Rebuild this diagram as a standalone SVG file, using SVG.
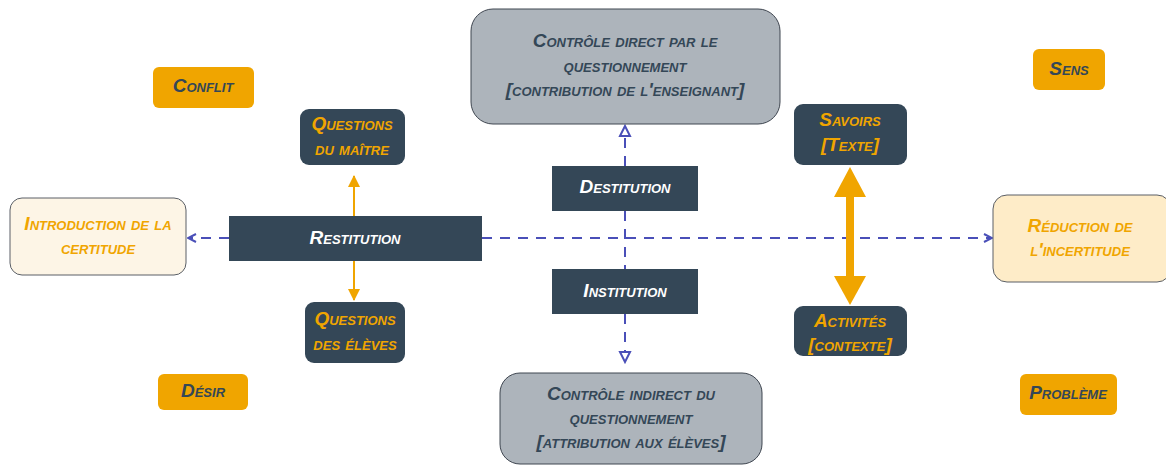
<svg xmlns="http://www.w3.org/2000/svg" width="1166" height="466" viewBox="0 0 1166 466">
<style>
text{font-family:"Liberation Sans",Arial,sans-serif;font-weight:bold;font-style:italic;font-variant:small-caps;text-anchor:middle;font-size:19px}
.dk{fill:#344757}
.or{fill:#f0a500}
.gray{fill:#adb4bb;stroke:#3f4650;stroke-width:1}
.cream{stroke:#5a5f66;stroke-width:1}
.tw{fill:#ffffff}
.to{fill:#f0a500}
.td{fill:#344757}
.dash{stroke:#4a4fb8;stroke-width:2;stroke-dasharray:10 8;fill:none}
</style>
<defs>
<marker id="chev" viewBox="0 0 10 10" refX="9" refY="5" markerWidth="10" markerHeight="10" markerUnits="userSpaceOnUse" orient="auto">
<path d="M1,1 L9,5 L1,9" fill="none" stroke="#4a4fb8" stroke-width="2"/>
</marker>
<marker id="tri" viewBox="0 0 14 14" refX="12" refY="7" markerWidth="14" markerHeight="14" markerUnits="userSpaceOnUse" orient="auto">
<path d="M2,2 L12,7 L2,12 Z" fill="#ffffff" stroke="#4a4fb8" stroke-width="2"/>
</marker>
<marker id="otri" viewBox="0 0 12 12" refX="11" refY="6" markerWidth="12" markerHeight="12" markerUnits="userSpaceOnUse" orient="auto">
<path d="M0,0 L12,6 L0,12 Z" fill="#f0a500"/>
</marker>
</defs>
<g id="connectors">
<line class="dash" x1="482" y1="238" x2="992" y2="238" marker-end="url(#chev)"/>
<line class="dash" x1="229" y1="238" x2="188" y2="238" marker-end="url(#chev)"/>
<line class="dash" x1="625" y1="166" x2="625" y2="126" marker-end="url(#tri)"/>
<line class="dash" x1="625" y1="211" x2="625" y2="269"/>
<line class="dash" x1="625" y1="314" x2="625" y2="362" marker-end="url(#tri)"/>
<line x1="354" y1="216" x2="354" y2="176" stroke="#f0a500" stroke-width="2" marker-end="url(#otri)"/>
<line x1="354" y1="261" x2="354" y2="300" stroke="#f0a500" stroke-width="2" marker-end="url(#otri)"/>
<line x1="850" y1="195" x2="850" y2="278" stroke="#f0a500" stroke-width="8"/>
<path d="M850,167 L866,197 L834,197 Z" fill="#f0a500"/>
<path d="M850,305 L866,276 L834,276 Z" fill="#f0a500"/>
</g>
<g id="controle-direct">
<rect class="gray" x="471" y="9" width="309" height="115" rx="22"/>
<text class="td" x="625" y="47">Contrôle direct par le</text>
<text class="td" x="625" y="72">questionnement</text>
<text class="td" x="625" y="96">[contribution de l'enseignant]</text>
</g>
<g id="controle-indirect">
<rect class="gray" x="500" y="373" width="262" height="91" rx="20"/>
<text class="td" x="631" y="400">Contrôle indirect du</text>
<text class="td" x="631" y="424">questionnement</text>
<text class="td" x="631" y="448">[attribution aux élèves]</text>
</g>
<g id="destitution">
<rect class="dk" x="552" y="166" width="146" height="45"/>
<text class="tw" x="625" y="193">Destitution</text>
</g>
<g id="institution">
<rect class="dk" x="552" y="269" width="146" height="45"/>
<text class="tw" x="625" y="297">Institution</text>
</g>
<g id="restitution">
<rect class="dk" x="229" y="216" width="253" height="45"/>
<text class="tw" x="355" y="244">Restitution</text>
</g>
<g id="questions-maitre">
<rect class="dk" x="300" y="109" width="105" height="56" rx="9"/>
<text class="to" x="352" y="130">Questions</text>
<text class="to" x="352" y="155">du maître</text>
</g>
<g id="questions-eleves">
<rect class="dk" x="305" y="302" width="100" height="61" rx="9"/>
<text class="to" x="355" y="325">Questions</text>
<text class="to" x="355" y="350">des élèves</text>
</g>
<g id="savoirs">
<rect class="dk" x="794" y="104" width="113" height="61" rx="9"/>
<text class="to" x="850" y="126">Savoirs</text>
<text class="to" x="850" y="151">[Texte]</text>
</g>
<g id="activites">
<rect class="dk" x="794" y="306" width="113" height="50" rx="9"/>
<text class="to" x="850" y="327">Activités</text>
<text class="to" x="850" y="351">[contexte]</text>
</g>
<g id="introduction">
<rect class="cream" x="10" y="198" width="176" height="77" rx="12" fill="#fdf5e6"/>
<text class="to" x="98" y="230">Introduction de la</text>
<text class="to" x="98" y="254">certitude</text>
</g>
<g id="reduction">
<rect class="cream" x="993" y="195" width="178" height="87" rx="14" fill="#feecc8"/>
<text class="to" x="1080" y="232">Réduction de</text>
<text class="to" x="1080" y="256">l'incertitude</text>
</g>
<g id="conflit">
<rect class="or" x="153" y="67" width="101" height="41" rx="6"/>
<text class="td" x="203" y="92">Conflit</text>
</g>
<g id="sens">
<rect class="or" x="1033" y="49" width="72" height="41" rx="6"/>
<text class="td" x="1069" y="75">Sens</text>
</g>
<g id="desir">
<rect class="or" x="158" y="374" width="90" height="36" rx="6"/>
<text class="td" x="203" y="397">Désir</text>
</g>
<g id="probleme">
<rect class="or" x="1020" y="374" width="97" height="41" rx="6"/>
<text class="td" x="1068" y="399">Problème</text>
</g>
</svg>
